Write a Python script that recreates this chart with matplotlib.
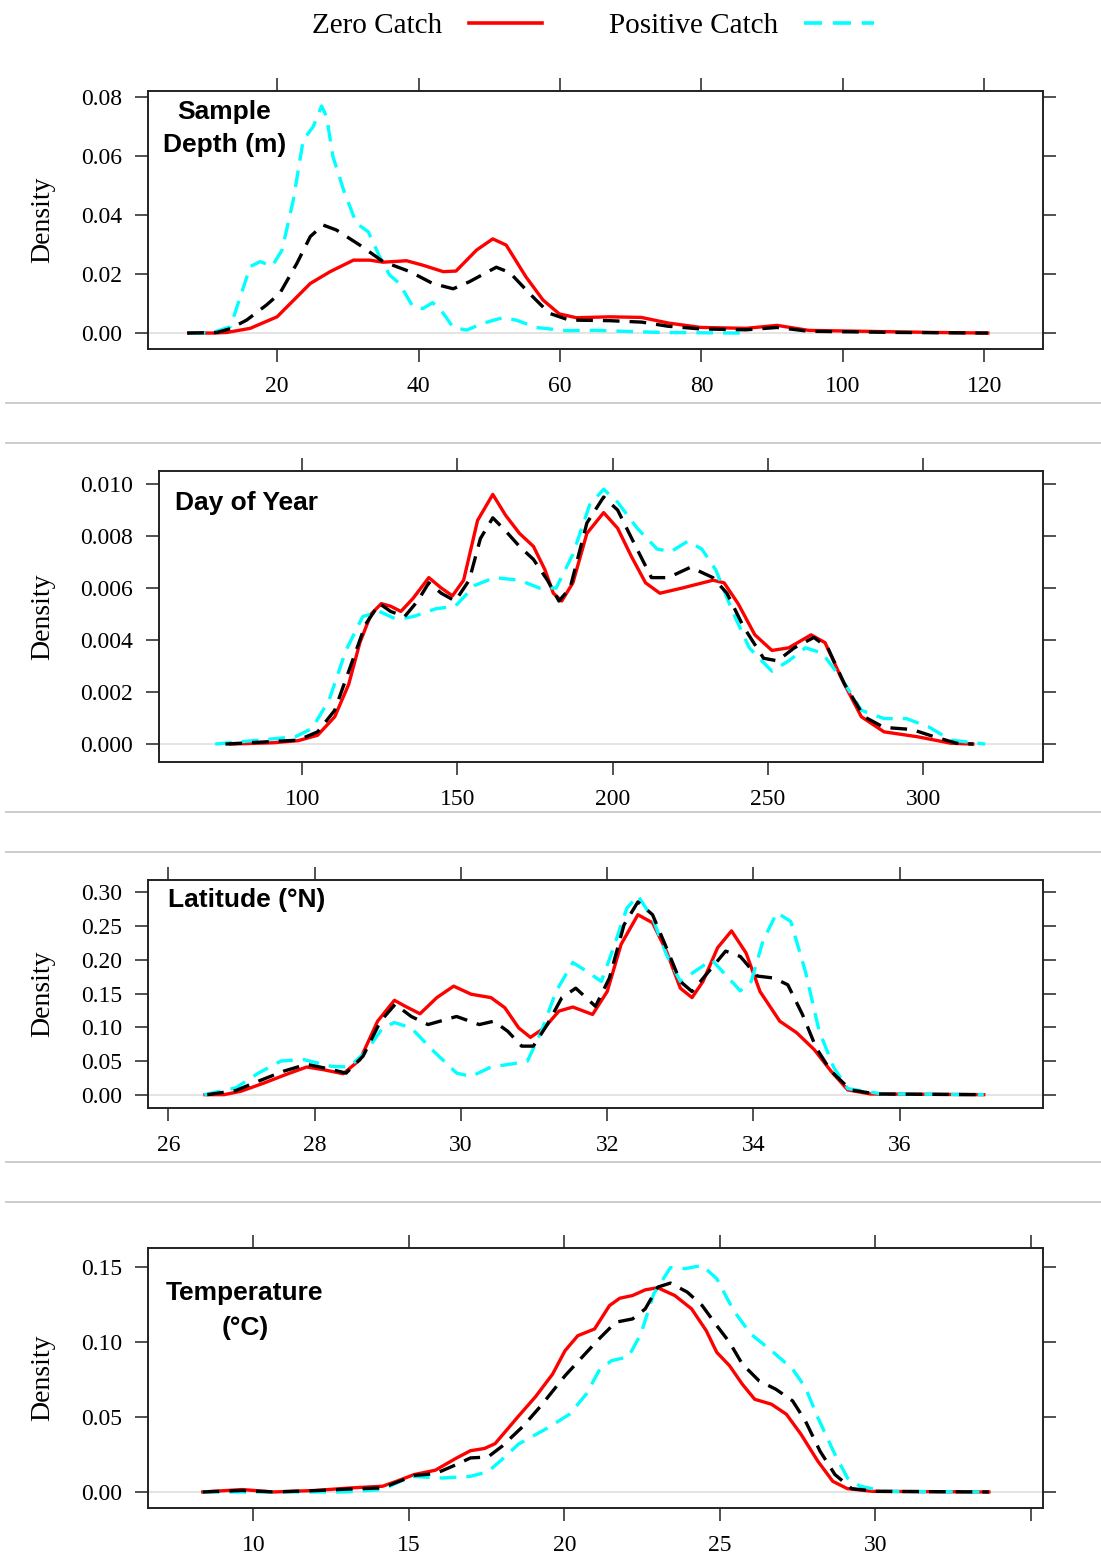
import numpy as np
import matplotlib
matplotlib.use("Agg")
import matplotlib.pyplot as plt
from matplotlib.lines import Line2D

# density curves: zero catch (red), positive catch (cyan), all tows (black)

# sample depth (m)
depth_x_zero = [7.5, 11.0, 12.9, 16.2, 20.0, 24.7, 27.5, 30.8, 33.1, 35.0, 38.3, 40.6, 43.5, 45.3, 48.2,
                50.5, 52.4, 55.2, 57.6, 59.9, 62.3, 67.0, 71.5, 75.3, 79.9, 86.3, 90.7, 95.2, 103.0, 113.0, 120.5]
depth_y_zero = [0, 0, 0.0002, 0.0016, 0.0055, 0.0168, 0.0208, 0.0247, 0.0247, 0.0240, 0.0245, 0.0230, 0.0208,
                0.0210, 0.0281, 0.0319, 0.0298, 0.0190, 0.0112, 0.0065, 0.0052, 0.0055, 0.0053, 0.0034, 0.0019,
                0.0016, 0.0026, 0.0009, 0.0006, 0.0002, 0.0]
depth_x_pos = [7.5, 10.6, 13.4, 14.8, 16.2, 17.6, 19.3, 20.7, 22.3, 23.7, 25.1, 26.3, 27.0, 27.9, 29.4, 31.2,
               32.9, 34.5, 35.9, 37.3, 39.2, 40.6, 42.0, 43.5, 44.9, 46.8, 49.1, 51.9, 53.8, 56.6, 60.9, 65.0,
               70.3, 74.5, 85.5]
depth_y_pos = [0, 0, 0.0021, 0.0123, 0.0225, 0.0242, 0.0227, 0.0281, 0.0451, 0.0654, 0.0699, 0.0769, 0.0733,
               0.0598, 0.0485, 0.0372, 0.0343, 0.0259, 0.0197, 0.0168, 0.0089, 0.0083, 0.0103, 0.0067, 0.0019,
               0.0010, 0.0033, 0.0052, 0.0044, 0.0019, 0.0008, 0.0009, 0.0005, 0.0002, 0.0]
depth_x_all = [7.3, 11.5, 13.4, 15.7, 18.5, 20.4, 22.8, 24.7, 26.5, 28.4, 31.7, 35.0, 38.8, 42.0, 44.9, 47.2,
               51.0, 52.9, 55.7, 58.5, 61.3, 67.0, 71.6, 75.3, 79.9, 86.3, 90.7, 95.2, 108.0, 120.5]
depth_y_all = [0, 0.0002, 0.0015, 0.0044, 0.0095, 0.0135, 0.0236, 0.0327, 0.0366, 0.0349, 0.0298, 0.0242,
               0.0208, 0.0168, 0.0150, 0.0174, 0.0223, 0.0205, 0.0134, 0.0067, 0.0044, 0.0042, 0.0037, 0.0023,
               0.0014, 0.0011, 0.0019, 0.0006, 0.0002, 0.0]

# day of year
day_x_zero = [77, 90.6, 98.7, 105, 110.5, 115, 118.6, 122.2, 125.5, 128.5, 131.8, 135.7, 140.8, 144.8, 148.4,
              152, 156.5, 161.4, 165.5, 170, 174.5, 178.2, 180.9, 183.6, 187.2, 191.7, 197.1, 201.6, 206.1,
              210.6, 215.2, 222.4, 232.3, 235.9, 240.4, 245.8, 251.3, 256.7, 263.9, 268.4, 273.8, 280.1,
              287.4, 298.2, 309, 316]
day_y_zero = [0, 0.00005, 0.00013, 0.00034, 0.00105, 0.0023, 0.0039, 0.0050, 0.0054, 0.0053, 0.0051, 0.0056,
              0.0064, 0.0060, 0.0057, 0.0063, 0.0086, 0.0096, 0.0088, 0.0081, 0.0076, 0.0067, 0.0058, 0.0055,
              0.0062, 0.0081, 0.0089, 0.0083, 0.0072, 0.0062, 0.0058, 0.0060, 0.0063, 0.0062, 0.0054, 0.0042,
              0.0036, 0.0037, 0.0042, 0.0039, 0.0025, 0.00105, 0.00047, 0.00028, 0.00003, 0]
day_x_pos = [72, 90.6, 97.8, 103.2, 108.7, 114.1, 119.5, 124.9, 130.3, 135.7, 143, 149.3, 155.6, 161.9, 170,
             176.4, 181.8, 187.2, 192.6, 197.1, 201.6, 207.9, 214.3, 218.8, 224.2, 228.7, 233.2, 238.6, 244,
             251.3, 256.7, 262.1, 267.5, 273.8, 280.1, 287.4, 294.6, 301.8, 309, 320]
day_y_pos = [0, 0.0002, 0.00028, 0.0006, 0.0017, 0.0036, 0.0049, 0.0051, 0.0048, 0.0049, 0.0052, 0.0053,
             0.0061, 0.0064, 0.0063, 0.0060, 0.0060, 0.0073, 0.0092, 0.0098, 0.0093, 0.0083, 0.0075, 0.0074,
             0.0078, 0.0075, 0.0067, 0.0051, 0.0037, 0.0028, 0.0032, 0.0037, 0.0035, 0.0025, 0.0013, 0.00098,
             0.00098, 0.00066, 0.00015, 0]
day_x_all = [75.3, 90.6, 98.7, 105, 110.5, 115.9, 120.4, 124.9, 128.5, 133, 137.2, 140.8, 144.8, 149.3, 153.8,
             157.4, 161.4, 165.5, 170, 174.5, 179, 182.7, 186.3, 191.7, 197.1, 201.6, 207, 212.5, 217.9, 225.1,
             232.3, 236.8, 242.2, 248.6, 253.1, 258.5, 264.8, 269.3, 274.7, 281, 287.4, 296.4, 303.6, 310.8, 316.2]
day_y_all = [0, 0.0001, 0.00015, 0.00047, 0.0013, 0.0031, 0.0046, 0.0054, 0.0051, 0.0049, 0.0055, 0.0062,
             0.0058, 0.0055, 0.0063, 0.0079, 0.0087, 0.0082, 0.0076, 0.0071, 0.0063, 0.0055, 0.0060, 0.0085,
             0.0095, 0.0090, 0.0077, 0.0064, 0.0064, 0.0068, 0.0064, 0.0058, 0.0045, 0.0033, 0.0032, 0.0037,
             0.0041, 0.0037, 0.0023, 0.00105, 0.00064, 0.00056, 0.00028, 0.00003, 0]

# latitude (N)
lat_x_zero = [26.5, 26.76, 26.99, 27.3, 27.61, 27.89, 28.12, 28.39, 28.62, 28.86, 29.09, 29.24, 29.44, 29.67,
              29.9, 30.14, 30.41, 30.6, 30.79, 30.95, 31.14, 31.34, 31.53, 31.8, 32.0, 32.19, 32.42, 32.62,
              32.81, 33.0, 33.16, 33.31, 33.51, 33.7, 33.9, 34.09, 34.36, 34.59, 34.83, 35.06, 35.29, 35.6, 37.15]
lat_y_zero = [0, 0, 0.005, 0.017, 0.030, 0.041, 0.037, 0.031, 0.052, 0.109, 0.140, 0.131, 0.120, 0.144, 0.161,
              0.149, 0.144, 0.129, 0.099, 0.085, 0.099, 0.124, 0.130, 0.119, 0.153, 0.223, 0.267, 0.255, 0.213,
              0.158, 0.144, 0.168, 0.218, 0.243, 0.210, 0.153, 0.109, 0.092, 0.067, 0.035, 0.007, 0.001, 0]
lat_x_pos = [26.49, 26.92, 27.23, 27.54, 27.85, 28.23, 28.47, 28.7, 28.93, 29.09, 29.32, 29.63, 29.94, 30.14,
             30.41, 30.72, 30.91, 31.1, 31.3, 31.53, 31.72, 31.92, 32.07, 32.27, 32.42, 32.62, 32.81, 33.0,
             33.2, 33.43, 33.66, 33.82, 33.97, 34.13, 34.32, 34.51, 34.71, 34.9, 35.1, 35.29, 35.76, 37.15]
lat_y_pos = [0, 0.010, 0.032, 0.050, 0.052, 0.042, 0.041, 0.064, 0.099, 0.107, 0.099, 0.064, 0.032, 0.027,
             0.041, 0.046, 0.050, 0.094, 0.153, 0.196, 0.183, 0.168, 0.213, 0.277, 0.295, 0.262, 0.208, 0.168,
             0.183, 0.200, 0.173, 0.154, 0.168, 0.228, 0.270, 0.257, 0.183, 0.094, 0.040, 0.009, 0.001, 0]
lat_x_all = [26.53, 26.92, 27.23, 27.58, 27.89, 28.16, 28.43, 28.66, 28.9, 29.1, 29.32, 29.55, 29.94, 30.25,
             30.45, 30.64, 30.83, 30.99, 31.18, 31.38, 31.57, 31.84, 32.03, 32.23, 32.42, 32.62, 32.81, 33.0,
             33.16, 33.39, 33.62, 33.82, 34.05, 34.28, 34.47, 34.67, 34.86, 35.06, 35.33, 35.68, 37.15]
lat_y_all = [0, 0.006, 0.020, 0.035, 0.045, 0.039, 0.032, 0.057, 0.109, 0.134, 0.116, 0.104, 0.116, 0.104,
             0.109, 0.094, 0.072, 0.072, 0.104, 0.144, 0.158, 0.131, 0.173, 0.252, 0.286, 0.267, 0.218, 0.168,
             0.153, 0.183, 0.213, 0.205, 0.176, 0.173, 0.163, 0.119, 0.069, 0.035, 0.007, 0.001, 0]

# temperature (C)
temp_x_zero = [8.37, 9.64, 10.65, 12.0, 13.14, 14.15, 14.6, 15.17, 15.85, 16.52, 16.98, 17.43, 17.77, 18.5,
               19.07, 19.62, 20.02, 20.43, 20.97, 21.45, 21.78, 22.19, 22.6, 23.0, 23.55, 24.09, 24.56, 24.9,
               25.31, 25.72, 26.12, 26.66, 27.14, 27.61, 28.15, 28.63, 29.1, 29.92, 33.65]
temp_y_zero = [0, 0.0016, 0, 0.001, 0.0027, 0.0038, 0.0071, 0.0116, 0.0145, 0.0225, 0.0275, 0.029, 0.0322,
               0.050, 0.0635, 0.0786, 0.0942, 0.1042, 0.1087, 0.1243, 0.1292, 0.1310, 0.1348, 0.1362, 0.1310,
               0.1221, 0.1076, 0.0931, 0.0842, 0.0719, 0.0618, 0.0585, 0.0518, 0.0384, 0.0205, 0.0071, 0.0022,
               0.0004, 0]
temp_x_pos = [8.37, 12.9, 14.15, 15.06, 16.07, 16.98, 17.54, 17.99, 18.53, 19.48, 20.16, 20.7, 21.11, 21.51,
              22.06, 22.46, 22.87, 23.41, 23.88, 24.43, 24.9, 25.44, 25.99, 26.66, 27.34, 27.75, 28.15, 28.7,
              29.1, 29.51, 30.32, 33.65]
temp_y_pos = [0, 0, 0.0016, 0.0104, 0.0093, 0.0104, 0.0135, 0.0216, 0.0320, 0.0429, 0.0518, 0.0652, 0.0808,
              0.0875, 0.0902, 0.1054, 0.1321, 0.1496, 0.1489, 0.1511, 0.1422, 0.121, 0.1054, 0.0942, 0.0819,
              0.0696, 0.0496, 0.025, 0.0094, 0.0038, 0.0004, 0]
temp_x_all = [8.37, 9.64, 10.65, 12.0, 13.14, 14.15, 15.17, 15.85, 16.52, 16.98, 17.54, 17.99, 18.67, 19.23,
              20.02, 20.56, 21.11, 21.65, 22.19, 22.6, 23.0, 23.41, 23.95, 24.43, 24.9, 25.31, 25.72, 26.26,
              26.8, 27.34, 27.75, 28.22, 28.7, 29.24, 30.05, 33.65]
temp_y_all = [0, 0.001, 0, 0.0009, 0.002, 0.0027, 0.011, 0.0122, 0.0182, 0.0227, 0.0233, 0.0304, 0.0438,
              0.0571, 0.0775, 0.0897, 0.102, 0.1132, 0.1154, 0.1221, 0.1366, 0.1393, 0.1333, 0.1243, 0.1109,
              0.0998, 0.0853, 0.0741, 0.0685, 0.0607, 0.0473, 0.0272, 0.0116, 0.0022, 0.0004, 0]

W, H = 1101, 1554
plt.rcParams['font.family'] = ['Liberation Serif', 'DejaVu Serif']

RED = "#ff0000"
CYAN = "#00ffff"
BOX = "#222222"


def fx(px):
    return px / W


def fy(py):
    return 1 - py / H


def panel(fig, l, t, r, b, xlim, ylim, xticks, xlabels, yticks, ylabels, curves):
    ax = fig.add_axes([fx(l), fy(b), (r - l) / W, (b - t) / H])
    ax.axhline(0, color="#e4e4e4", lw=1.4, zorder=1)
    (xz, yz), (xp, yp), (xa, ya) = curves
    ax.plot(xz, yz, color=RED, lw=2.4, zorder=2, solid_joinstyle="round")
    ax.plot(xp, yp, color=CYAN, lw=2.4, ls=(0, (5, 3)), zorder=3, dash_joinstyle="round")
    ax.plot(xa, ya, color="black", lw=2.4, ls=(0, (5, 3)), zorder=4, dash_joinstyle="round")
    ax.set_xlim(*xlim)
    ax.set_ylim(*ylim)
    ax.set_xticks(xticks)
    ax.set_xticklabels(xlabels)
    ax.set_yticks(yticks)
    ax.set_yticklabels(ylabels)
    ax.tick_params(axis="both", direction="out", length=9.5, width=1.1, color=BOX,
                   labelsize=17, top=True, right=True, labeltop=False, labelright=False)
    ax.tick_params(axis="x", pad=10)
    ax.tick_params(axis="y", pad=9)
    for s in ax.spines.values():
        s.set_linewidth(1.4)
        s.set_color(BOX)
    fig.text(fx(43), fy((t + b) / 2), "Density", rotation=90, ha="center", va="center", fontsize=20)
    return ax


fig = plt.figure(figsize=(W / 100, H / 100), dpi=100)

# panel 1: depth
panel(fig, 148, 91, 1043, 349, (1.75, 128.3), (-0.0054, 0.0820),
      [20, 40, 60, 80, 100, 120], ["20", "40", "60", "80", "100", "120"],
      [0, 0.02, 0.04, 0.06, 0.08], ["0.00", "0.02", "0.04", "0.06", "0.08"],
      [(depth_x_zero, depth_y_zero), (depth_x_pos, depth_y_pos), (depth_x_all, depth_y_all)])

# panel 2: day of year
panel(fig, 159, 471, 1043, 762, (53.9, 338.6), (-0.00069, 0.0105),
      [100, 150, 200, 250, 300], ["100", "150", "200", "250", "300"],
      [0, 0.002, 0.004, 0.006, 0.008, 0.010], ["0.000", "0.002", "0.004", "0.006", "0.008", "0.010"],
      [(day_x_zero, day_y_zero), (day_x_pos, day_y_pos), (day_x_all, day_y_all)])

# panel 3: latitude
panel(fig, 148, 880, 1043, 1108, (25.72, 37.96), (-0.0198, 0.3185),
      [26, 28, 30, 32, 34, 36], ["26", "28", "30", "32", "34", "36"],
      [0, 0.05, 0.10, 0.15, 0.20, 0.25, 0.30], ["0.00", "0.05", "0.10", "0.15", "0.20", "0.25", "0.30"],
      [(lat_x_zero, lat_y_zero), (lat_x_pos, lat_y_pos), (lat_x_all, lat_y_all)])

# panel 4: temperature
panel(fig, 148, 1248, 1043, 1508, (6.61, 35.39), (-0.0107, 0.1627),
      [10, 15, 20, 25, 30, 35], ["10", "15", "20", "25", "30", ""],
      [0, 0.05, 0.10, 0.15], ["0.00", "0.05", "0.10", "0.15"],
      [(temp_x_zero, temp_y_zero), (temp_x_pos, temp_y_pos), (temp_x_all, temp_y_all)])

# panel titles
tkw = dict(fontsize=19, fontweight="bold", family=["Liberation Sans", "DejaVu Sans"], va="baseline")
fig.text(fx(224.5), fy(119), "Sample", ha="center", **tkw)
fig.text(fx(225), fy(152), "Depth (m)", ha="center", **tkw)
fig.text(fx(175), fy(510), "Day of Year", ha="left", **tkw)
fig.text(fx(168), fy(907), "Latitude (°N)", ha="left", **tkw)
fig.text(fx(245), fy(1300), "Temperature", ha="center", **tkw)
fig.text(fx(245.5), fy(1335), "(°C)", ha="center", **tkw)

# separators between the stacked panels
for y in [403, 443, 812, 852, 1162, 1202]:
    fig.add_artist(Line2D([fx(6), 1], [fy(y), fy(y)], transform=fig.transFigure, color="#c8c8c8", lw=1.3))

# legend on top
fig.text(fx(377.5), fy(26), "Zero Catch", ha="center", va="center", fontsize=21)
fig.add_artist(Line2D([fx(469), fx(542)], [fy(23), fy(23)], transform=fig.transFigure, color=RED, lw=2.6))
fig.text(fx(694), fy(26), "Positive Catch", ha="center", va="center", fontsize=21)
fig.add_artist(Line2D([fx(804), fx(874)], [fy(23), fy(23)], transform=fig.transFigure, color=CYAN, lw=2.6,
                      ls=(0, (5, 3))))

fig.savefig("out.png", dpi=100)
